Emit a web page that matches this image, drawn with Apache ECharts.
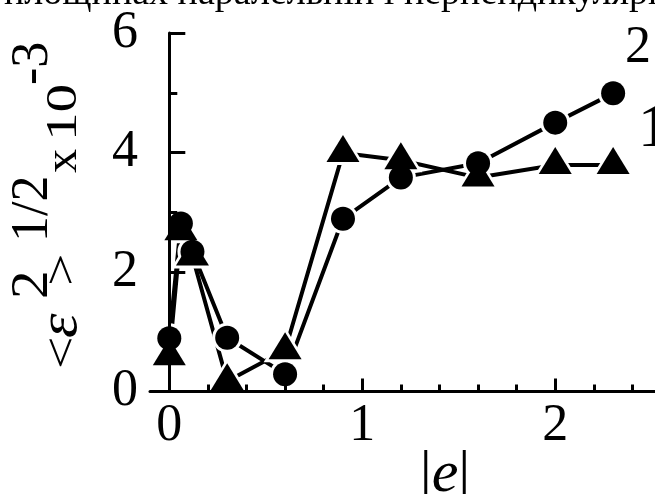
<!DOCTYPE html>
<html>
<head>
<meta charset="utf-8">
<script src="https://cdn.jsdelivr.net/npm/echarts@6/dist/echarts.min.js"></script>
<style>
  html, body { margin: 0; padding: 0; background: #fff; }
  #chart { width: 655px; height: 494px; }
</style>
</head>
<body>
<div id="chart"></div>
<script>
// ---- data ----
const xValues = [0, 0.06, 0.12, 0.3, 0.6, 0.9, 1.2, 1.6, 2.0, 2.3];
const series2Circles = [0.89, 2.81, 2.34, 0.90, 0.29, 2.89, 3.58, 3.82, 4.50, 4.99];
const series1Triangles = [0.59, 2.68, 2.26, 0.17, 0.69, 3.99, 3.87, 3.58, 3.79, 3.79];
const xMajorTicks = [0, 1, 2];
const xMinorTicks = [0.2, 0.4, 0.6, 0.8, 1.2, 1.4, 1.6, 1.8, 2.2, 2.4];
const yTickLabels = [0, 2, 4, 6];
const seriesNames = ['1', '2'];
const topText = 'площинах паралельній і перпендикулярній';

const pairs = ys => xValues.map((x, i) => [x, ys[i]]);

const FONT = 'Liberation Serif';
const chart = echarts.init(document.getElementById('chart'), null, { renderer: 'canvas' });

const black = '#000';
const lineSeries = (name, ys) => ({
  type: 'line', name, data: pairs(ys), symbol: 'none', z: 2,
  lineStyle: { color: black, width: 4 }, animation: false, silent: true
});
const scatter = (ys, symbol, size, offset, color, z) => ({
  type: 'scatter', data: pairs(ys), symbol, symbolSize: size, symbolOffset: offset,
  itemStyle: { color, opacity: 1 }, z, clip: false, animation: false, silent: true
});

const ytitle = [
  { t: '<', f: 46, it: false, cx: 64, y: 369, sx: 1.25 },
  { t: 'ε', f: 54, it: true, cx: 62, y: 338, sx: 1.15 },
  { t: '2', f: 52, it: false, cx: 33, y: 299, sx: 1.1 },
  { t: '>', f: 46, it: false, cx: 64, y: 286, sx: 1.25 },
  { t: '1/2', f: 52, it: false, cx: 33, y: 242, sx: 1.0 },
  { t: 'x', f: 46, it: false, cx: 64, y: 173, sx: 1.05 },
  { t: '10', f: 44, it: false, cx: 64, y: 141, sx: 1.3 },
  { t: '-3', f: 52, it: false, cx: 33, y: 85, sx: 1.0 }
];

const option = {
  backgroundColor: '#fff',
  animation: false,
  grid: { left: 150, right: 0, top: 33, bottom: 494 - 391.5, containLabel: false },
  xAxis: [
    {
      type: 'value', min: -0.1, max: 2.517, z: 10,
      axisLine: { show: true, lineStyle: { color: black, width: 3 } },
      axisTick: { show: true, inside: true, length: 13, customValues: xMajorTicks, lineStyle: { color: black, width: 3 } },
      axisLabel: { show: true, customValues: xMajorTicks, margin: 9, color: black, fontFamily: FONT, fontSize: 52 },
      splitLine: { show: false }
    },
    {
      type: 'value', min: -0.1, max: 2.517, position: 'bottom', z: 10,
      axisLine: { show: false },
      axisTick: { show: true, inside: true, length: 7, customValues: xMinorTicks, lineStyle: { color: black, width: 3 } },
      axisLabel: { show: false },
      splitLine: { show: false }
    }
  ],
  yAxis: {
    type: 'value', min: 0, max: 6, interval: 2, z: 10,
    axisLine: { show: true, lineStyle: { color: black, width: 3 } },
    axisTick: { show: true, inside: true, length: 16, lineStyle: { color: black, width: 3 } },
    minorTick: { show: true, splitNumber: 2, length: 8, lineStyle: { color: black, width: 3 } },
    axisLabel: {
      show: true, margin: 12, color: black, fontFamily: FONT, fontSize: 52,
      formatter: v => (yTickLabels.indexOf(v) >= 0 ? String(v) : '')
    },
    splitLine: { show: false }
  },
  series: [
    lineSeries(seriesNames[1], series2Circles),
    lineSeries(seriesNames[0], series1Triangles),
    scatter(series2Circles, 'circle', 30, [0, 0], '#fff', 3),
    scatter(series1Triangles, 'triangle', [43, 35], [0, -5.5], '#fff', 3),
    scatter(series2Circles, 'circle', 24, [0, 0], black, 4),
    scatter(series1Triangles, 'triangle', [33, 27], [0, -4.5], black, 4)
  ],
  graphic: [
    {
      type: 'text', left: 4, top: -25, z: 10, silent: true,
      style: { text: topText, fontFamily: FONT, fontSize: 38, fill: black }
    },
    ...ytitle.map(p => ({
      type: 'text', x: p.cx, y: p.y, rotation: Math.PI / 2, scaleX: p.sx, z: 10, silent: true,
      style: { text: p.t, fontFamily: FONT, fontSize: p.f, fontStyle: p.it ? 'italic' : 'normal', fill: black, align: 'left', verticalAlign: 'middle' }
    })),
    {
      type: 'text', x: 625, y: 48, z: 10, silent: true,
      style: { text: seriesNames[1], fontFamily: FONT, fontSize: 52, fill: black, align: 'left', verticalAlign: 'middle' }
    },
    {
      type: 'text', x: 638, y: 130, z: 10, silent: true,
      style: { text: seriesNames[0], fontFamily: FONT, fontSize: 62, fill: black, align: 'left', verticalAlign: 'middle' }
    },
    {
      type: 'text', x: 445, y: 475, z: 10, silent: true,
      style: {
        text: '|{e|e}|', fontFamily: FONT, fontSize: 60, fill: black, align: 'center', verticalAlign: 'middle',
        rich: { e: { fontFamily: FONT, fontSize: 60, fontStyle: 'italic', fill: black } }
      }
    }
  ]
};
chart.setOption(option);
</script>
</body>
</html>
